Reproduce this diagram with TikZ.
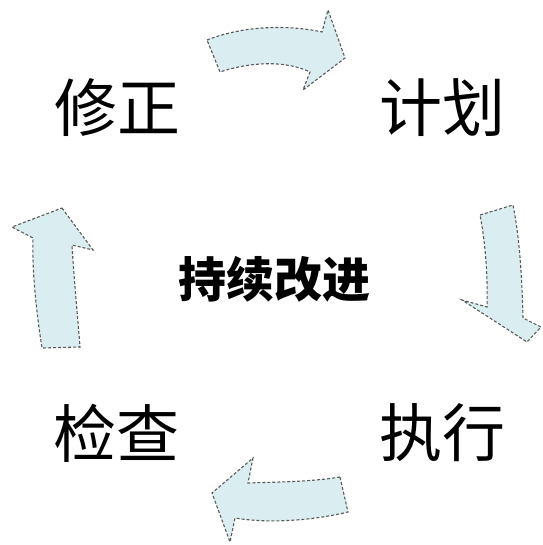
\documentclass[tikz,border=0pt]{standalone}
\usepackage{fontspec}
\newfontfamily\cjk{Noto Sans CJK SC}
\begin{document}
\begin{tikzpicture}[x=1pt,y=-1pt,
  arr/.style={fill=arrowfill,draw=gray!70!black,densely dashed,line width=1.1pt},
  big/.style={font=\cjk\fontsize{63}{65}\selectfont,inner sep=0pt},
  mid/.style={font=\cjk\bfseries\fontsize{48}{50}\selectfont,inner sep=0pt}]
\definecolor{arrowfill}{RGB}{218,238,241}
\useasboundingbox (0,0) rectangle (542,545);
% top arrow
\draw[arr] (207,40) .. controls (245,25) and (290,25) .. (322,32)
  -- (328,10) -- (345,58) -- (303,90) -- (310,72)
  .. controls (285,60) and (250,62) .. (220,72) -- cycle;
% right arrow
\draw[arr] (480,215) -- (513,205) .. controls (520,240) and (522,280) .. (523,318)
  -- (541,327) -- (527,342) -- (462,300) -- (487,307)
  .. controls (488,275) and (485,240) .. (480,215) -- cycle;
% bottom arrow
\draw[arr] (340,477) .. controls (310,482) and (275,482) .. (248,483)
  -- (253,458) -- (212,493) -- (230,542) -- (235,518)
  .. controls (270,524) and (315,520) .. (348,512) -- cycle;
% left arrow
\draw[arr] (62,208) -- (93,250) -- (72,245)
  .. controls (74,280) and (78,320) .. (80,347) -- (42,348)
  .. controls (36,310) and (32,270) .. (33,238) -- (12,227) -- cycle;
\node[big] (fix) at (117,108) {修正};
\node[big] (plan) at (442,108) {计划};
\node[big] (check) at (116,433) {检查};
\node[big] (do) at (442,433) {执行};
\node[mid] (c) at (274,279) {持续改进};
\end{tikzpicture}
\end{document}
